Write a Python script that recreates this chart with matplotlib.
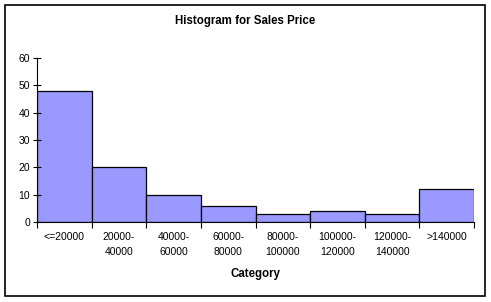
import numpy as np
import matplotlib
matplotlib.use("Agg")
import matplotlib.pyplot as plt
from matplotlib.patches import Rectangle

categories = ["<=20000", "20000-\n40000", "40000-\n60000", "60000-\n80000",
              "80000-\n100000", "100000-\n120000", "120000-\n140000", ">140000"]
counts = [48, 20, 10, 6, 3, 4, 3, 12]

plt.rcParams['font.family'] = ['Liberation Sans', 'DejaVu Sans']

fig = plt.figure(figsize=(4.91, 3.02), dpi=100)
fig.patches.append(Rectangle((5 / 491, 6 / 302), 480 / 491, 291 / 302,
                             transform=fig.transFigure, fill=False,
                             edgecolor='black', linewidth=1.2))
ax = fig.add_axes([37 / 491, 80 / 302, 437 / 491, 164 / 302])

x = np.arange(len(counts))
ax.bar(x, counts, width=1.0, color='#9999FF', edgecolor='black', linewidth=0.9)

ax.set_xlim(-0.5, len(counts) - 0.5)
ax.set_ylim(0, 60)
ax.set_yticks(range(0, 61, 10))
ax.tick_params(axis='y', direction='inout', length=6, width=0.8, labelsize=7.5, pad=2)

ax.set_xticks(np.arange(-0.5, len(counts), 1.0))
ax.set_xticklabels([])
ax.tick_params(axis='x', which='major', direction='out', length=4, width=0.8)
ax.set_xticks(x, minor=True)
ax.set_xticklabels(categories, minor=True, fontsize=7.5, linespacing=1.65)
ax.tick_params(axis='x', which='minor', length=0, pad=7)

for s in ['top', 'right']:
    ax.spines[s].set_visible(False)
for s in ['left', 'bottom']:
    ax.spines[s].set_linewidth(0.8)

ax.set_xlabel('Category', fontsize=8.3, fontweight='bold', labelpad=8)
fig.text(0.5, 1 - 21 / 302, 'Histogram for Sales Price', ha='center', va='center',
         fontsize=8.3, fontweight='bold')

fig.savefig('out.png', dpi=100)
